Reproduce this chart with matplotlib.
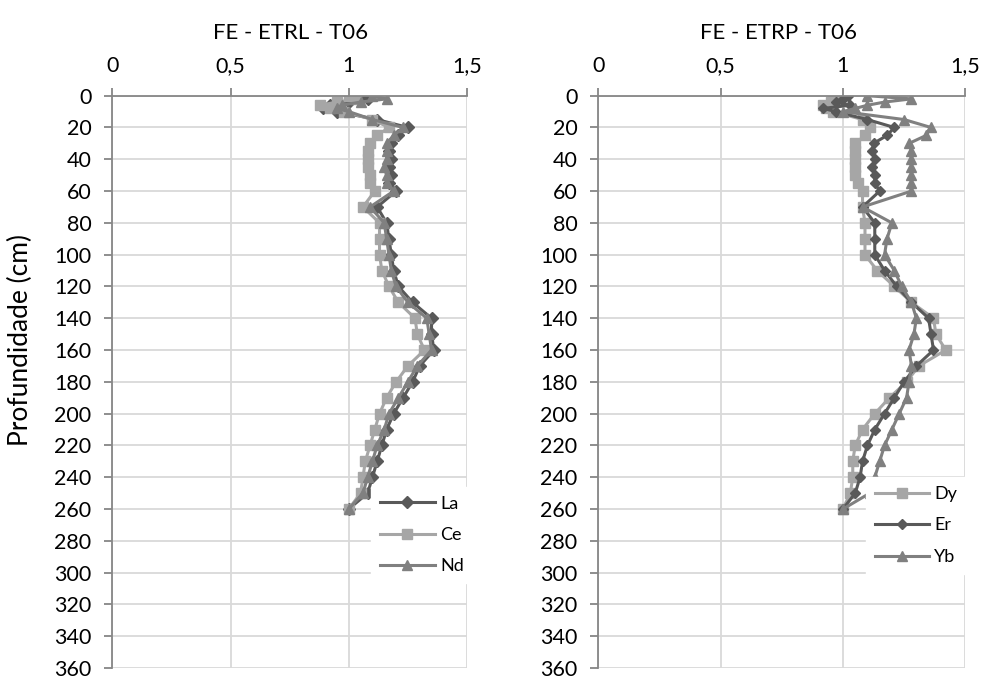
import matplotlib
matplotlib.use("Agg")
import matplotlib.pyplot as plt
from matplotlib.ticker import FuncFormatter, MultipleLocator

plt.rcParams['font.family'] = ['Lato', 'DejaVu Sans']

depth = [0, 2, 4, 6, 8, 10, 15, 20, 25, 30, 35, 40, 45, 50, 55, 60, 70, 80, 90, 100,
         110, 120, 130, 140, 150, 160, 170, 180, 190, 200, 210, 220, 230, 240, 250, 260]

La = [1.04, 1.08, 1.00, 0.92, 0.89, 0.95, 1.12, 1.25, 1.21, 1.18, 1.17, 1.18, 1.17, 1.18, 1.17, 1.20,
      1.12, 1.16, 1.17, 1.18, 1.19, 1.21, 1.27, 1.35, 1.35, 1.36, 1.30, 1.27, 1.23, 1.19, 1.16, 1.14,
      1.12, 1.10, 1.08, 1.00]
Ce = [1.00, 1.03, 0.95, 0.88, 0.92, 0.98, 1.10, 1.17, 1.12, 1.09, 1.08, 1.08, 1.08, 1.09, 1.09, 1.11,
      1.06, 1.13, 1.13, 1.13, 1.14, 1.17, 1.21, 1.28, 1.29, 1.32, 1.25, 1.20, 1.16, 1.13, 1.11, 1.09,
      1.07, 1.06, 1.05, 1.00]
Nd = [1.10, 1.16, 1.05, 0.97, 0.95, 1.00, 1.10, 1.23, 1.19, 1.16, 1.16, 1.16, 1.15, 1.16, 1.16, 1.19,
      1.09, 1.15, 1.16, 1.17, 1.18, 1.20, 1.25, 1.33, 1.34, 1.35, 1.29, 1.25, 1.21, 1.17, 1.15, 1.12,
      1.10, 1.08, 1.06, 1.00]

Dy = [0.98, 0.96, 0.95, 0.92, 0.93, 0.96, 1.08, 1.11, 1.09, 1.05, 1.05, 1.05, 1.05, 1.05, 1.06, 1.08,
      1.08, 1.09, 1.09, 1.09, 1.14, 1.21, 1.28, 1.37, 1.38, 1.42, 1.31, 1.26, 1.19, 1.13, 1.08, 1.05,
      1.04, 1.04, 1.03, 1.00]
Er = [1.02, 1.00, 0.97, 1.03, 0.92, 0.97, 1.10, 1.21, 1.18, 1.125, 1.12, 1.13, 1.12, 1.13, 1.13, 1.15,
      1.08, 1.13, 1.13, 1.13, 1.17, 1.22, 1.28, 1.35, 1.36, 1.37, 1.30, 1.25, 1.21, 1.17, 1.13, 1.10,
      1.08, 1.07, 1.05, 1.00]
Yb = [1.10, 1.28, 1.17, 1.10, 1.05, 1.00, 1.25, 1.36, 1.34, 1.27, 1.28, 1.28, 1.28, 1.28, 1.28, 1.28,
      1.08, 1.20, 1.18, 1.17, 1.21, 1.24, 1.28, 1.30, 1.29, 1.27, 1.28, 1.27, 1.26, 1.23, 1.20, 1.17,
      1.15, 1.13, 1.11, 1.00]

titles = ["FE - ETRL - T06", "FE - ETRP - T06"]
ylabel = "Profundidade (cm)"

DARK = "#595959"
MID = "#808080"
LIGHT = "#a6a6a6"
AXC = "#868686"
GRID = "#d9d9d9"

fig = plt.figure(figsize=(9.83, 6.79), dpi=100)
W, H = 983, 679


def make_ax(x0, x1, ytop, ybot):
    return fig.add_axes([x0 / W, 1 - ybot / H, (x1 - x0) / W, (ybot - ytop) / H])


axL = make_ax(112.3, 467, 95.7, 668)
axR = make_ax(598.3, 965.3, 95.7, 668)

fmt = FuncFormatter(lambda v, p: ("%g" % v).replace(".", ","))

for ax in [axL, axR]:
    ax.set_xlim(0, 1.5)
    ax.set_ylim(360, 0)
    ax.xaxis.set_major_locator(MultipleLocator(0.5))
    ax.yaxis.set_major_locator(MultipleLocator(20))
    ax.xaxis.set_major_formatter(fmt)
    ax.xaxis.tick_top()
    ax.grid(True, color=GRID, linewidth=1.3)
    ax.set_axisbelow(True)
    for s in ['right', 'bottom']:
        ax.spines[s].set_visible(False)
    for s in ['top', 'left']:
        ax.spines[s].set_color(AXC)
        ax.spines[s].set_linewidth(1.3)
    ax.tick_params(axis='both', colors=AXC, labelcolor='black', labelsize=15.5,
                   length=6, width=1.3, direction='out')
    ax.tick_params(axis='x', pad=8)
    ax.tick_params(axis='y', pad=9)

fig.text(291 / W, 1 - 33 / H, titles[0], fontsize=16, ha='center', va='center')
fig.text(778 / W, 1 - 33 / H, titles[1], fontsize=16, ha='center', va='center')
fig.text(20 / W, 1 - 340 / H, ylabel, fontsize=19, ha='center', va='center', rotation=90)

lw = 2.2
axL.plot(La, depth, color=DARK, marker='D', markersize=6.5, linewidth=lw, label='La')
axL.plot(Ce, depth, color=LIGHT, marker='s', markersize=6.5, linewidth=lw, label='Ce')
axL.plot(Nd, depth, color=MID, marker='^', markersize=7, linewidth=lw, label='Nd')

axR.plot(Dy, depth, color=LIGHT, marker='s', markersize=6.5, linewidth=lw, label='Dy')
axR.plot(Er, depth, color=DARK, marker='D', markersize=5.5, linewidth=lw, label='Er')
axR.plot(Yb, depth, color=MID, marker='^', markersize=7, linewidth=lw, label='Yb')

for ax, bbox in [(axL, (377, 484, 467, 586)), (axR, (867, 476, 965, 575))]:
    x0, y0, x1, y1 = bbox
    leg = ax.legend(loc='center', bbox_to_anchor=((x0 + x1) / 2 / W, 1 - (y0 + y1) / 2 / H),
                    bbox_transform=fig.transFigure, frameon=True, fancybox=False,
                    handlelength=3.0, labelspacing=0.85, fontsize=13, borderpad=0.5,
                    handletextpad=0.3, borderaxespad=0)
    leg.get_frame().set_facecolor('white')
    leg.get_frame().set_edgecolor('white')
    leg.get_frame().set_alpha(1)

fig.savefig("out.png", dpi=100)
